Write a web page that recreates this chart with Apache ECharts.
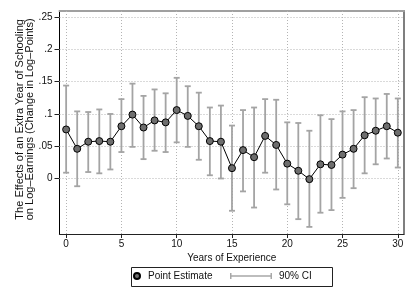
<!DOCTYPE html>
<html>
<head>
<meta charset="utf-8">
<script src="https://cdn.jsdelivr.net/npm/echarts@6/dist/echarts.min.js"></script>
<style>html,body{margin:0;padding:0;background:#fff;}#c{width:415px;height:302px;}</style>
</head>
<body>
<div id="c"></div>
<script>
const years = [0,1,2,3,4,5,6,7,8,9,10,11,12,13,14,15,16,17,18,19,20,21,22,23,24,25,26,27,28,29,30];
const estimates = [0.076,0.046,0.057,0.058,0.057,0.081,0.099,0.079,0.090,0.087,0.106,0.097,0.081,0.058,0.057,0.016,0.044,0.033,0.066,0.052,0.023,0.012,-0.001,0.022,0.021,0.037,0.046,0.067,0.074,0.081,0.071];
const ciUpper = [0.144,0.104,0.103,0.107,0.100,0.123,0.147,0.128,0.138,0.132,0.156,0.143,0.133,0.110,0.113,0.082,0.106,0.110,0.123,0.122,0.087,0.086,0.074,0.098,0.092,0.104,0.106,0.126,0.124,0.131,0.124];
const ciLower = [0.009,-0.012,0.010,0.008,0.014,0.041,0.049,0.030,0.043,0.041,0.056,0.049,0.029,0.005,0.000,-0.050,-0.020,-0.045,0.009,-0.017,-0.040,-0.063,-0.075,-0.053,-0.049,-0.030,-0.015,0.008,0.022,0.031,0.017];
const xTicks = [0,5,10,15,20,25,30];
const yTicks = [0,0.05,0.1,0.15,0.2,0.25];

const FONT = 'Liberation Sans';
const TXT = '#111';
const chart = echarts.init(document.getElementById('c'));
const pointData = years.map((x,i)=>[x, estimates[i]]);
const ciData = years.map((x,i)=>[x, ciLower[i], ciUpper[i]]);
const gridStyle = {color:'#b4b4b4', width:1, type:[1,2]};
const markData = xTicks.map(v=>({xAxis:v})).concat(yTicks.map(v=>({yAxis:v})));

chart.setOption({
  animation:false,
  textStyle:{fontFamily:FONT},
  grid:{left:59.5, right:11, top:10.7, bottom:68, containLabel:false},
  xAxis:[{
    type:'value', min:-0.6, max:30.56,
    name:'Years of Experience', nameLocation:'middle', nameGap:19, nameMoveOverlap:false,
    nameTextStyle:{fontSize:10, color:TXT, fontFamily:FONT},
    axisLine:{onZero:false, lineStyle:{color:'#222', width:1.2}},
    axisTick:{customValues:xTicks, length:4, lineStyle:{color:'#222'}},
    axisLabel:{customValues:xTicks, fontSize:10, color:TXT, margin:5, fontFamily:FONT},
    splitLine:{show:false}
  },{
    type:'value', position:'top', min:-0.6, max:30.56,
    axisLine:{show:true, onZero:false, lineStyle:{color:'#a0a0a0', width:2}},
    axisTick:{show:false}, axisLabel:{show:false}, splitLine:{show:false}
  }],
  yAxis:[{
    type:'value', min:-0.086, max:0.26,
    name:'The Effects of an Extra Year of Schooling\non Log\u2013Earnings (Change in Log\u2013Points)',
    nameLocation:'middle', nameGap:25, nameMoveOverlap:false,
    nameTextStyle:{fontSize:11, color:TXT, lineHeight:10, fontFamily:FONT, padding:[0,0,0,6]},
    axisLine:{show:true, onZero:false, lineStyle:{color:'#000', width:1}},
    axisTick:{show:true, customValues:yTicks, length:5, lineStyle:{color:'#222'}},
    axisLabel:{customValues:yTicks, fontSize:10, color:TXT, margin:7, fontFamily:FONT,
      formatter:function(v){ if (Math.abs(v)<1e-9) return '0'; return String(+v.toFixed(2)).replace(/^0/,''); }},
    splitLine:{show:false}
  },{
    type:'value', position:'right', min:-0.086, max:0.26,
    axisLine:{show:true, onZero:false, lineStyle:{color:'#555', width:1.5}},
    axisTick:{show:false}, axisLabel:{show:false}, splitLine:{show:false}
  }],
  legend:[{
    data:[{name:'Point Estimate', icon:'circle'}],
    left:133, top:271, itemWidth:6, itemHeight:6, padding:0,
    textStyle:{fontSize:10, color:TXT, fontFamily:FONT, padding:[0,0,0,3]},
    selectedMode:false
  },{
    data:[{name:'90% CI', icon:'path://M0,0h1.5v6h-1.5z M0,2.3h42v1.4h-42z M40.5,0h1.5v6h-1.5z'}],
    left:230, top:271, itemWidth:42, itemHeight:6, padding:0,
    textStyle:{fontSize:10, color:TXT, fontFamily:FONT, padding:[0,0,0,2]},
    selectedMode:false
  }],
  graphic:[{
    type:'rect', shape:{x:131.5, y:267.5, width:201, height:19},
    style:{fill:'none', stroke:'#222', lineWidth:1}, silent:true
  }],
  series:[{
    type:'line', name:'grid', data:[], silent:true,
    markLine:{silent:true, symbol:['none','none'], label:{show:false}, z:1,
      lineStyle:gridStyle, emphasis:{disabled:true}, data:markData}
  },{
    type:'custom', name:'90% CI', z:2,
    itemStyle:{color:'#a8a8a8'},
    data:ciData,
    renderItem:function(params, api){
      const x = api.value(0);
      const lo = api.coord([x, api.value(1)]);
      const hi = api.coord([x, api.value(2)]);
      const cap = 3;
      const st = {stroke:'#a4a4a4', lineWidth:1.8};
      return {type:'group', children:[
        {type:'line', shape:{x1:lo[0], y1:lo[1], x2:hi[0], y2:hi[1]}, style:st},
        {type:'line', shape:{x1:lo[0]-cap, y1:lo[1], x2:lo[0]+cap, y2:lo[1]}, style:st},
        {type:'line', shape:{x1:hi[0]-cap, y1:hi[1], x2:hi[0]+cap, y2:hi[1]}, style:st}
      ]};
    }
  },{
    type:'line', name:'Point Estimate', z:3,
    data:pointData,
    symbol:'circle', symbolSize:7,
    itemStyle:{color:'#6e6e6e', borderColor:'#000', borderWidth:1},
    lineStyle:{color:'#000', width:1}
  }]
});
</script>
</body>
</html>
